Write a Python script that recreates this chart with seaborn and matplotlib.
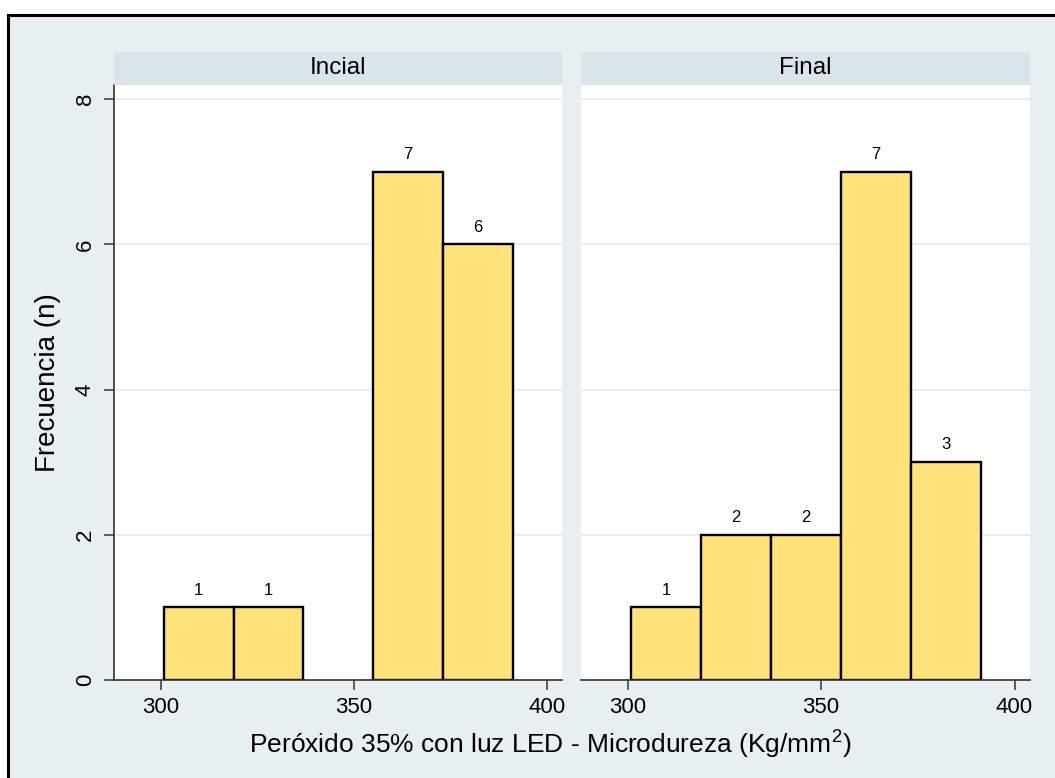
import numpy as np
import matplotlib
matplotlib.use("Agg")
import matplotlib.pyplot as plt
import seaborn as sns
from matplotlib.patches import Rectangle

# Data
bin_edges = [300.8, 318.9, 337.0, 355.1, 373.2, 391.3]
panels = ["Incial", "Final"]
counts_inicial = [1, 1, 0, 7, 6]
counts_final = [1, 2, 2, 7, 3]
x_ticks = [300, 350, 400]
y_ticks = [0, 2, 4, 6, 8]

sns.set_theme(style="white")
plt.rcParams['font.family'] = ['Liberation Sans', 'DejaVu Sans']
plt.rcParams['text.color'] = 'black'
plt.rcParams['xtick.color'] = 'black'
plt.rcParams['ytick.color'] = 'black'
plt.rcParams['axes.labelcolor'] = 'black'

W, H = 1055, 778
fig = plt.figure(figsize=(W / 100, H / 100), dpi=100)
fig.patch.set_facecolor("white")

outer_bg = "#E8EFF2"
strip_bg = "#D9E5EB"
bar_fill = "#FFE27A"

# outer frame
frame = Rectangle((8 / W, -0.1), 1.2, 1.1 - 15 / H, transform=fig.transFigure,
                  facecolor=outer_bg, edgecolor="black", linewidth=2.2, zorder=-10)
fig.add_artist(frame)

def fx(px):
    return px / W

def fy(py):
    return 1 - py / H

panel_x = [(114, 562), (581, 1030)]
top, bottom = 85, 680
strip_top = 52

centers = [(bin_edges[i] + bin_edges[i + 1]) / 2 for i in range(len(bin_edges) - 1)]

for i, (name, counts) in enumerate(zip(panels, [counts_inicial, counts_final])):
    x0, x1 = panel_x[i]
    ax = fig.add_axes([fx(x0), fy(bottom), fx(x1 - x0), (bottom - top) / H])
    ax.set_facecolor("white")
    sns.histplot(x=centers, weights=counts, bins=bin_edges, ax=ax, color=bar_fill,
                 edgecolor="black", linewidth=1.7, alpha=1, zorder=3)
    for p in ax.containers[0]:
        if p.get_height() == 0:
            p.set_visible(False)
    ax.set_xlim(287.9, 404.0)
    ax.set_ylim(0, 8.196)
    ax.set_yticks(y_ticks)
    ax.set_xticks(x_ticks)
    ax.grid(axis="y", color="#E6EEF1", linewidth=1.5, zorder=0)
    ax.set_axisbelow(True)
    for s in ["top", "right"]:
        ax.spines[s].set_visible(False)
    ax.spines["bottom"].set_color("#333333")
    ax.spines["bottom"].set_linewidth(1.2)
    ax.spines["bottom"].set_zorder(5)
    if i == 0:
        ax.spines["left"].set_color("#333333")
        ax.spines["left"].set_linewidth(1.2)
        ax.tick_params(axis="y", left=True, length=7, width=1.1, color="#333333",
                       labelcolor="black", labelsize=16, labelrotation=90, pad=6)
        for lab in ax.get_yticklabels():
            lab.set_va("center")
    else:
        ax.spines["left"].set_visible(False)
        ax.tick_params(axis="y", left=False, labelleft=False)
    ax.tick_params(axis="x", bottom=True, length=7, width=1.1, color="#333333",
                   labelcolor="black", labelsize=16, pad=5)
    ax.set_xlabel("")
    ax.set_ylabel("")
    labels = [str(c) if c > 0 else "" for c in counts]
    ax.bar_label(ax.containers[0], labels=labels, padding=7, fontsize=12, color="black")

    # strip
    sax = fig.add_axes([fx(x0), fy(top), fx(x1 - x0), (top - strip_top) / H])
    sax.set_facecolor(strip_bg)
    sax.set_xticks([])
    sax.set_yticks([])
    for s in sax.spines.values():
        s.set_visible(False)
    sax.text(0.5, 0.5, name, ha="center", va="center", fontsize=17.5, color="black",
             transform=sax.transAxes)

fig.text(fx(48), fy(383), "Frecuencia (n)", rotation=90, ha="center", va="center",
         fontsize=20, color="black")
fig.text(fx(550), fy(744), "Peróxido 35% con luz LED - Microdureza (Kg/mm$^{\\mathregular{2}}$)",
         ha="center", va="center", fontsize=19, color="black")

fig.savefig("out.png", dpi=100, facecolor=fig.get_facecolor())
